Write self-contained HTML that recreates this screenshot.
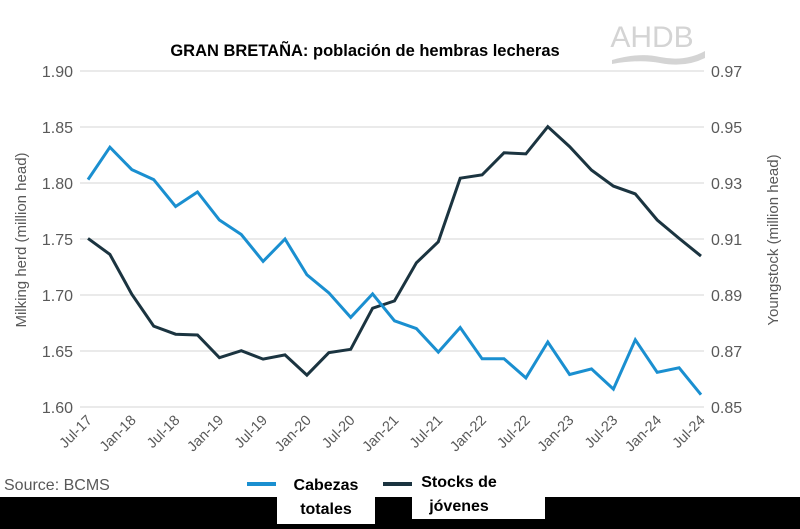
<!DOCTYPE html>
<html><head><meta charset="utf-8"><style>
html,body{margin:0;padding:0;background:#fff;}
svg{display:block;font-family:"Liberation Sans",sans-serif;}
</style></head><body>
<svg id="chart" width="800" height="529" viewBox="0 0 800 529">
<rect x="0" y="0" width="800" height="529" fill="#fff"/>
<rect x="0" y="497" width="800" height="32" fill="#000"/>
<rect x="277" y="460" width="98" height="64" fill="#fff"/>
<rect x="412" y="455" width="133" height="64" fill="#fff"/>
<text x="365" y="56" text-anchor="middle" font-size="16.5" font-weight="bold" fill="#000">GRAN BRETAÑA: población de hembras lecheras</text>
<g>
<text x="652" y="47" text-anchor="middle" font-size="30" fill="#d4d4d4">AHDB</text>
<path d="M612 60 Q640 52 660 57 Q685 62 705 51 L705 58 Q685 68 660 63 Q640 59 612 64 Z" fill="#d4d4d4"/>
</g>
<g id="grid"></g>
<g id="axes"></g>
<g id="series"></g>
<text x="26" y="240" transform="rotate(-90 26 240)" text-anchor="middle" font-size="15" fill="#595959">Milking herd (million head)</text>
<text x="778" y="240" transform="rotate(-90 778 240)" text-anchor="middle" font-size="15" fill="#595959">Youngstock (million head)</text>
<text x="4" y="490" font-size="16" fill="#595959">Source: BCMS</text>
<g>
<line x1="247" y1="484" x2="276" y2="484" stroke="#1a8fd0" stroke-width="4"/>
<text x="326" y="490" text-anchor="middle" font-size="16" font-weight="bold" fill="#000">Cabezas</text>
<text x="326" y="514" text-anchor="middle" font-size="16" font-weight="bold" fill="#000">totales</text>
<line x1="383" y1="484" x2="412" y2="484" stroke="#1b3440" stroke-width="4"/>
<text x="459" y="487" text-anchor="middle" font-size="16" font-weight="bold" fill="#000">Stocks de</text>
<text x="459" y="511" text-anchor="middle" font-size="16" font-weight="bold" fill="#000">jóvenes</text>
</g>
</svg>
<script>
const xLabels = ["Jul-17","Jan-18","Jul-18","Jan-19","Jul-19","Jan-20","Jul-20","Jan-21","Jul-21","Jan-22","Jul-22","Jan-23","Jul-23","Jan-24","Jul-24"];
const leftTicks = [1.60,1.65,1.70,1.75,1.80,1.85,1.90];
const rightTicks = [0.85,0.87,0.89,0.91,0.93,0.95,0.97];
const milkingHerd = [1.803,1.832,1.812,1.803,1.779,1.792,1.767,1.754,1.730,1.750,1.718,1.702,1.680,1.701,1.677,1.670,1.649,1.671,1.643,1.643,1.626,1.658,1.629,1.634,1.616,1.660,1.631,1.635,1.611];
const youngstock = [0.9102,0.9045,0.8903,0.8789,0.8760,0.8757,0.8676,0.8701,0.8671,0.8686,0.8614,0.8694,0.8706,0.8853,0.8879,0.9015,0.9090,0.9317,0.9329,0.9408,0.9404,0.9501,0.9430,0.9346,0.9289,0.9261,0.9168,0.9102,0.9039];

const NS="http://www.w3.org/2000/svg";
const X0=88, X1=701, YB=407, YT=71;
const n = milkingHerd.length;
function xs(i){return X0+(X1-X0)*i/(n-1);}
function yL(v){return YB-(v-1.60)/(1.90-1.60)*(YB-YT);}
function yR(v){return YB-(v-0.85)/(0.97-0.85)*(YB-YT);}
function mk(tag,attrs,parent){const e=document.createElementNS(NS,tag);for(const k in attrs)e.setAttribute(k,attrs[k]);parent.appendChild(e);return e;}
const grid=document.getElementById('grid'), axes=document.getElementById('axes'), series=document.getElementById('series');
leftTicks.forEach((t,i)=>{
  const l=mk('line',{x1:80,x2:704,y1:yL(t),y2:yL(t),stroke:'#e3e3e3','stroke-width':1.5},grid);
  
  
  const tx=mk('text',{x:73,y:yL(t)+6,'text-anchor':'end','font-size':16,fill:'#595959'},axes);
  tx.textContent=t.toFixed(2);
  
  
});
rightTicks.forEach(t=>{
  const tx=mk('text',{x:711,y:yR(t)+6,'text-anchor':'start','font-size':16,fill:'#595959'},axes);
  tx.textContent=t.toFixed(2);
  
  
});
xLabels.forEach((lab,j)=>{
  const x=xs(j*2)+5, y=421;
  const tx=mk('text',{x:x,y:y,'text-anchor':'end','font-size':14.5,fill:'#595959',transform:`rotate(-45 ${x} ${y})`},axes);
  tx.textContent=lab;
  
  
});
function line(vals,f,color,name){
  const d=vals.map((v,i)=>(i?'L':'M')+xs(i).toFixed(1)+' '+f(v).toFixed(1)).join(' ');
  const p=mk('path',{d:d,fill:'none',stroke:color,'stroke-width':3,'stroke-linejoin':'miter'},series);
  
  
}
line(youngstock,yR,'#1b3440','youngstock-line');
line(milkingHerd,yL,'#1a8fd0','milking-herd-line');
</script>
</body></html>
